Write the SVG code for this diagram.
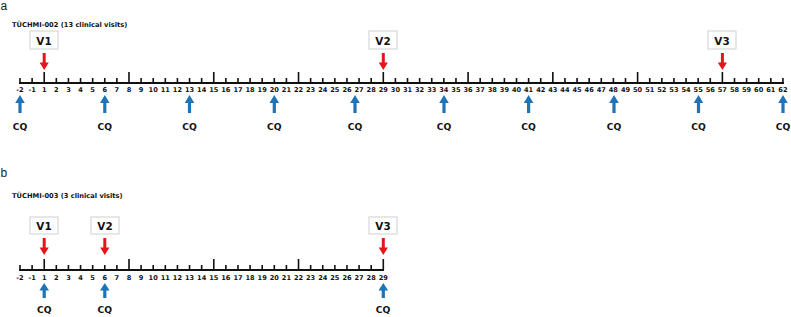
<svg xmlns="http://www.w3.org/2000/svg" xmlns:xlink="http://www.w3.org/1999/xlink" width="791" height="317" viewBox="0 0 791 317">
<style>
.panel{font-family:"Liberation Sans",Arial,sans-serif;font-size:12px;fill:#222}
.title{font-family:"DejaVu Sans",Verdana,sans-serif;font-weight:bold;font-size:6.7px;fill:#111}
.tl{font-family:"DejaVu Sans",Verdana,sans-serif;font-weight:bold;font-size:6.6px;fill:#111;text-anchor:middle}
.cq{font-family:"DejaVu Sans",Verdana,sans-serif;font-weight:bold;font-size:9.2px;fill:#111;text-anchor:middle}
.vt{font-family:"DejaVu Sans",Verdana,sans-serif;font-weight:bold;font-size:10.4px;fill:#111;text-anchor:middle}
.box{fill:#fff;stroke:#cfcfcf;stroke-width:1}
.axis{stroke:#111;stroke-width:2;fill:none}
.tick{stroke:#111;stroke-width:1.6;fill:none}
.red{fill:#e8141c}
.blue{fill:#1e74b6}
</style>
<defs>
<path id="ra" d="M-1.5,-17 H1.5 V-7.5 H4.6 L0,0 L-4.6,-7.5 H-1.5 Z"/>
<path id="ba" d="M-1.6,18 H1.6 V8 H4.8 L0,0 L-4.8,8 H-1.6 Z"/>
<path id="bb" d="M-1.6,15 H1.6 V7.5 H4.8 L0,0 L-4.8,7.5 H-1.6 Z"/>
</defs>

<text class="panel" x="0.5" y="10">a</text>
<text class="title" x="12" y="26.5">TÜCHMI-002 (13 clinical visits)</text>

<g id="axisA">
<line class="axis" x1="19" y1="83" x2="784" y2="83"/>
<path class="tick" d="M20,78V83M32.11,78V83M44.22,72V83M56.33,78V83M68.44,78V83M80.55,78V83M92.66,78V83M104.77,78V83M116.88,78V83M128.99,72V83M141.1,78V83M153.21,78V83M165.32,78V83M177.43,78V83M189.54,78V83M201.65,78V83M213.76,72V83M225.87,78V83M237.98,78V83M250.09,78V83M262.2,78V83M274.31,78V83M286.42,78V83M298.53,72V83M310.64,78V83M322.75,78V83M334.86,78V83M346.97,78V83M359.08,78V83M371.19,78V83M383.3,72V83M395.41,78V83M407.52,78V83M419.63,78V83M431.74,78V83M443.85,78V83M455.96,78V83M468.07,72V83M480.18,78V83M492.29,78V83M504.4,78V83M516.51,78V83M528.62,78V83M540.73,78V83M552.84,72V83M564.95,78V83M577.06,78V83M589.17,78V83M601.28,78V83M613.39,78V83M625.5,78V83M637.61,72V83M649.72,78V83M661.83,78V83M673.94,78V83M686.05,78V83M698.16,78V83M710.27,78V83M722.38,72V83M734.49,78V83M746.6,78V83M758.71,78V83M770.82,78V83M782.93,78V83"/>
<g>
<text class="tl" x="20" y="91.5">-2</text><text class="tl" x="32.11" y="91.5">-1</text><text class="tl" x="44.22" y="91.5">1</text><text class="tl" x="56.33" y="91.5">2</text><text class="tl" x="68.44" y="91.5">3</text><text class="tl" x="80.55" y="91.5">4</text><text class="tl" x="92.66" y="91.5">5</text><text class="tl" x="104.77" y="91.5">6</text><text class="tl" x="116.88" y="91.5">7</text><text class="tl" x="128.99" y="91.5">8</text><text class="tl" x="141.1" y="91.5">9</text><text class="tl" x="153.21" y="91.5">10</text><text class="tl" x="165.32" y="91.5">11</text><text class="tl" x="177.43" y="91.5">12</text><text class="tl" x="189.54" y="91.5">13</text><text class="tl" x="201.65" y="91.5">14</text><text class="tl" x="213.76" y="91.5">15</text><text class="tl" x="225.87" y="91.5">16</text><text class="tl" x="237.98" y="91.5">17</text><text class="tl" x="250.09" y="91.5">18</text><text class="tl" x="262.2" y="91.5">19</text><text class="tl" x="274.31" y="91.5">20</text><text class="tl" x="286.42" y="91.5">21</text><text class="tl" x="298.53" y="91.5">22</text><text class="tl" x="310.64" y="91.5">23</text><text class="tl" x="322.75" y="91.5">24</text><text class="tl" x="334.86" y="91.5">25</text><text class="tl" x="346.97" y="91.5">26</text><text class="tl" x="359.08" y="91.5">27</text><text class="tl" x="371.19" y="91.5">28</text><text class="tl" x="383.3" y="91.5">29</text><text class="tl" x="395.41" y="91.5">30</text><text class="tl" x="407.52" y="91.5">31</text><text class="tl" x="419.63" y="91.5">32</text><text class="tl" x="431.74" y="91.5">33</text><text class="tl" x="443.85" y="91.5">34</text><text class="tl" x="455.96" y="91.5">35</text><text class="tl" x="468.07" y="91.5">36</text><text class="tl" x="480.18" y="91.5">37</text><text class="tl" x="492.29" y="91.5">38</text><text class="tl" x="504.4" y="91.5">39</text><text class="tl" x="516.51" y="91.5">40</text><text class="tl" x="528.62" y="91.5">41</text><text class="tl" x="540.73" y="91.5">42</text><text class="tl" x="552.84" y="91.5">43</text><text class="tl" x="564.95" y="91.5">44</text><text class="tl" x="577.06" y="91.5">45</text><text class="tl" x="589.17" y="91.5">46</text><text class="tl" x="601.28" y="91.5">47</text><text class="tl" x="613.39" y="91.5">48</text><text class="tl" x="625.5" y="91.5">49</text><text class="tl" x="637.61" y="91.5">50</text><text class="tl" x="649.72" y="91.5">51</text><text class="tl" x="661.83" y="91.5">52</text><text class="tl" x="673.94" y="91.5">53</text><text class="tl" x="686.05" y="91.5">54</text><text class="tl" x="698.16" y="91.5">55</text><text class="tl" x="710.27" y="91.5">56</text><text class="tl" x="722.38" y="91.5">57</text><text class="tl" x="734.49" y="91.5">58</text><text class="tl" x="746.6" y="91.5">59</text><text class="tl" x="758.71" y="91.5">60</text><text class="tl" x="770.82" y="91.5">61</text><text class="tl" x="782.93" y="91.5">62</text>
</g>
</g>

<g id="a-V1"><rect class="box" x="30" y="31" width="28" height="18"/><text class="vt" x="44" y="44.5">V1</text></g>
<g id="a-V2"><rect class="box" x="369" y="31" width="28" height="18"/><text class="vt" x="383" y="44.5">V2</text></g>
<g id="a-V3"><rect class="box" x="708" y="31" width="28" height="18"/><text class="vt" x="722" y="44.5">V3</text></g>
<g id="a-CQ1"><text class="cq" x="20" y="130">CQ</text></g>
<g id="a-CQ2"><text class="cq" x="104.8" y="130">CQ</text></g>
<g id="a-CQ3"><text class="cq" x="189.5" y="130">CQ</text></g>
<g id="a-CQ4"><text class="cq" x="274.3" y="130">CQ</text></g>
<g id="a-CQ5"><text class="cq" x="355" y="130">CQ</text></g>
<g id="a-CQ6"><text class="cq" x="444" y="130">CQ</text></g>
<g id="a-CQ7"><text class="cq" x="528.6" y="130">CQ</text></g>
<g id="a-CQ8"><text class="cq" x="614" y="130">CQ</text></g>
<g id="a-CQ9"><text class="cq" x="698.5" y="130">CQ</text></g>
<g id="a-CQ10"><text class="cq" x="783" y="130">CQ</text></g>

<text class="panel" x="0.5" y="177">b</text>
<text class="title" x="12" y="197.5">TÜCHMI-003 (3 clinical visits)</text>

<g id="axisB">
<line class="axis" x1="19" y1="270" x2="384" y2="270"/>
<path class="tick" d="M20,265V270M32.11,265V270M44.22,259V270M56.33,265V270M68.44,265V270M80.55,265V270M92.66,265V270M104.77,265V270M116.88,265V270M128.99,259V270M141.1,265V270M153.21,265V270M165.32,265V270M177.43,265V270M189.54,265V270M201.65,265V270M213.76,259V270M225.87,265V270M237.98,265V270M250.09,265V270M262.2,265V270M274.31,265V270M286.42,265V270M298.53,259V270M310.64,265V270M322.75,265V270M334.86,265V270M346.97,265V270M359.08,265V270M371.19,265V270M383.3,259V270"/>
<g>
<text class="tl" x="20" y="280">-2</text><text class="tl" x="32.11" y="280">-1</text><text class="tl" x="44.22" y="280">1</text><text class="tl" x="56.33" y="280">2</text><text class="tl" x="68.44" y="280">3</text><text class="tl" x="80.55" y="280">4</text><text class="tl" x="92.66" y="280">5</text><text class="tl" x="104.77" y="280">6</text><text class="tl" x="116.88" y="280">7</text><text class="tl" x="128.99" y="280">8</text><text class="tl" x="141.1" y="280">9</text><text class="tl" x="153.21" y="280">10</text><text class="tl" x="165.32" y="280">11</text><text class="tl" x="177.43" y="280">12</text><text class="tl" x="189.54" y="280">13</text><text class="tl" x="201.65" y="280">14</text><text class="tl" x="213.76" y="280">15</text><text class="tl" x="225.87" y="280">16</text><text class="tl" x="237.98" y="280">17</text><text class="tl" x="250.09" y="280">18</text><text class="tl" x="262.2" y="280">19</text><text class="tl" x="274.31" y="280">20</text><text class="tl" x="286.42" y="280">21</text><text class="tl" x="298.53" y="280">22</text><text class="tl" x="310.64" y="280">23</text><text class="tl" x="322.75" y="280">24</text><text class="tl" x="334.86" y="280">25</text><text class="tl" x="346.97" y="280">26</text><text class="tl" x="359.08" y="280">27</text><text class="tl" x="371.19" y="280">28</text><text class="tl" x="383.3" y="280">29</text>
</g>
</g>

<g id="b-V1"><rect class="box" x="30" y="217" width="28" height="17"/><text class="vt" x="44" y="229.5">V1</text></g>
<g id="b-V2"><rect class="box" x="91" y="217" width="28" height="17"/><text class="vt" x="105" y="229.5">V2</text></g>
<g id="b-V3"><rect class="box" x="369" y="217" width="28" height="17"/><text class="vt" x="383" y="229.5">V3</text></g>
<g id="b-CQ1"><text class="cq" x="44.2" y="312.5">CQ</text></g>
<g id="b-CQ2"><text class="cq" x="104.8" y="312.5">CQ</text></g>
<g id="b-CQ3"><text class="cq" x="383" y="312.5">CQ</text></g>

<g id="connectors">
<use xlink:href="#ra" href="#ra" class="red" x="44.2" y="70"/>
<use xlink:href="#ra" href="#ra" class="red" x="383.3" y="70"/>
<use xlink:href="#ra" href="#ra" class="red" x="722.4" y="70"/>
<use xlink:href="#ba" href="#ba" class="blue" x="20" y="95"/>
<use xlink:href="#ba" href="#ba" class="blue" x="104.8" y="95"/>
<use xlink:href="#ba" href="#ba" class="blue" x="189.5" y="95"/>
<use xlink:href="#ba" href="#ba" class="blue" x="274.3" y="95"/>
<use xlink:href="#ba" href="#ba" class="blue" x="355" y="95"/>
<use xlink:href="#ba" href="#ba" class="blue" x="444" y="95"/>
<use xlink:href="#ba" href="#ba" class="blue" x="528.6" y="95"/>
<use xlink:href="#ba" href="#ba" class="blue" x="614" y="95"/>
<use xlink:href="#ba" href="#ba" class="blue" x="698.5" y="95"/>
<use xlink:href="#ba" href="#ba" class="blue" x="783" y="95"/>
<use xlink:href="#ra" href="#ra" class="red" x="44.2" y="255"/>
<use xlink:href="#ra" href="#ra" class="red" x="104.8" y="255"/>
<use xlink:href="#ra" href="#ra" class="red" x="383.3" y="255"/>
<use xlink:href="#bb" href="#bb" class="blue" x="44.2" y="283"/>
<use xlink:href="#bb" href="#bb" class="blue" x="104.8" y="283"/>
<use xlink:href="#bb" href="#bb" class="blue" x="383.3" y="283"/>
</g>
</svg>
